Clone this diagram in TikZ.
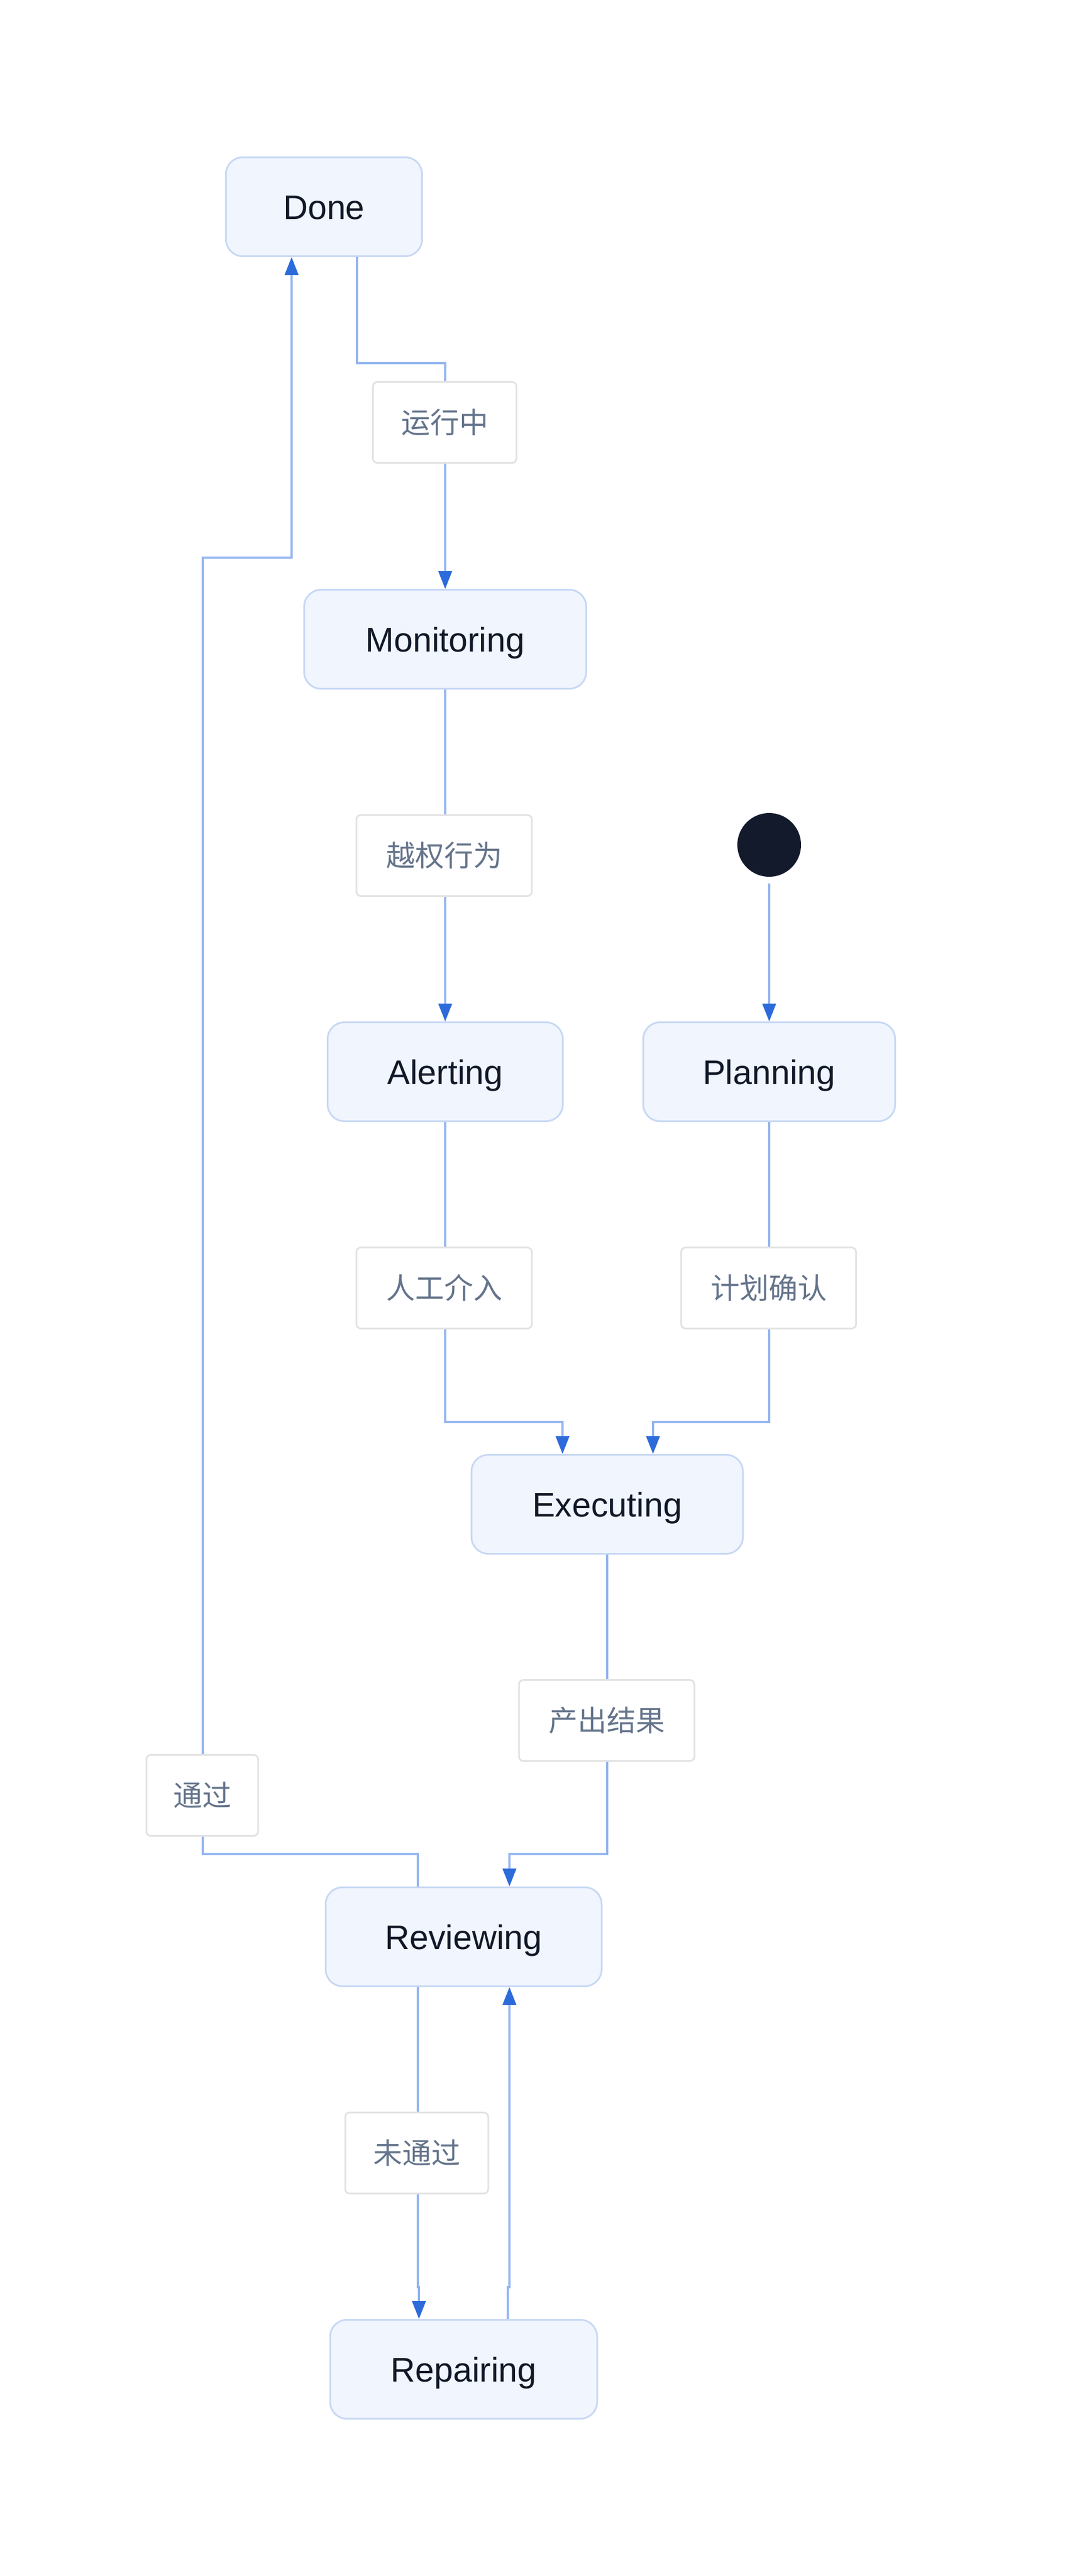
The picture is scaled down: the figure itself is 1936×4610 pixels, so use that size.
\documentclass[tikz,border=0pt]{standalone}
\usepackage{fontspec}
\setmainfont{Liberation Sans}
\newfontfamily\cjkfont{Noto Sans CJK SC}
\usetikzlibrary{arrows.meta,calc}
\definecolor{nodefill}{HTML}{F0F5FE}
\definecolor{nodeborder}{HTML}{C7D8F4}
\definecolor{edgecol}{HTML}{93B5F0}
\definecolor{tipcol}{HTML}{2D6BDB}
\definecolor{lblborder}{HTML}{E2E2E2}
\definecolor{lbltext}{HTML}{64748B}
\definecolor{nodetext}{HTML}{111827}
\definecolor{initcol}{HTML}{121A2B}
\tikzset{
  state/.style={draw=nodeborder, line width=3pt, fill=nodefill, rounded corners=30pt,
    minimum height=177pt, inner sep=0pt, text height=44pt, text depth=0pt,
    font=\fontsize{61}{70}\selectfont, text=nodetext},
  lbl/.style={draw=lblborder, line width=3pt, fill=white, rounded corners=8pt,
    minimum height=145pt, inner sep=0pt, font=\cjkfont\fontsize{52}{60}\selectfont, text=lbltext},
  edge/.style={draw=edgecol, line width=4pt},
  arr/.style={edge, -{Triangle[length=32pt,width=24pt,color=tipcol]}}
}
\begin{document}
\begin{tikzpicture}[x=1pt,y=-1pt]
\fill[white] (0,0) rectangle (1936,4610);
\useasboundingbox (0,0) rectangle (1936,4610);
% states
\node[state, minimum width=351pt] (done) at (580,370) {Done};
\node[state, minimum width=505pt] (mon) at (797,1144) {Monitoring};
\node[state, minimum width=421pt] (alert) at (797,1918) {Alerting};
\node[state, minimum width=451pt] (plan) at (1377,1918) {Planning};
\node[state, minimum width=486pt] (exec) at (1087,2692) {Executing};
\node[state, minimum width=494pt] (rev) at (830,3466) {Reviewing};
\node[state, minimum width=478pt] (rep) at (830,4240) {Repairing};
\node[circle, fill=initcol, minimum size=114pt, inner sep=0pt] (init) at (1377,1512) {};
% bend coordinates
\coordinate (k1) at (639,650);
\coordinate (k2) at (797,650);
\coordinate (j1) at (1007,2545);
\coordinate (j2) at (1169,2545);
\coordinate (j3) at (912,3318);
\coordinate (j4) at (748,3318);
\coordinate (j5) at (363,998);
\coordinate (j6) at (522,998);
\coordinate (j7) at (748,4093);
\coordinate (j8) at (750,4093);
\coordinate (j9) at (909,4093);
\coordinate (j10) at (912,4093);
% edges
\draw[arr] (done.south -| k1) |- (k2) -- (mon.north);
\draw[arr] (mon.south) -- (alert.north);
\draw[arr] ($(init.south)+(0,12)$) -- (plan.north);
\draw[arr] (alert.south) |- (j1) -- (exec.north -| j1);
\draw[arr] (plan.south) |- (j2) -- (exec.north -| j2);
\draw[arr] (exec.south) |- (j3) -- (rev.north -| j3);
\draw[arr] (rev.north -| j4) -- (j4) -| (j5) -- (j6) -- (done.south -| j6);
\draw[arr] (rev.south -| j7) -- (j7) -- (j8) -- (rep.north -| j8);
\draw[arr] (rep.north -| j9) -- (j9) -- (j10) -- (rev.south -| j10);
% labels
\node[lbl, minimum width=257pt] (l1) at (796,756) {运行中};
\node[lbl, minimum width=314pt] (l2) at (795,1531) {越权行为};
\node[lbl, minimum width=314pt] (l3) at (795,2305) {人工介入};
\node[lbl, minimum width=313pt] (l4) at (1376,2305) {计划确认};
\node[lbl, minimum width=314pt] (l5) at (1086,3079) {产出结果};
\node[lbl, minimum width=200pt] (l6) at (362,3213) {通过};
\node[lbl, minimum width=256pt] (l7) at (746,3853) {未通过};
\end{tikzpicture}
\end{document}
